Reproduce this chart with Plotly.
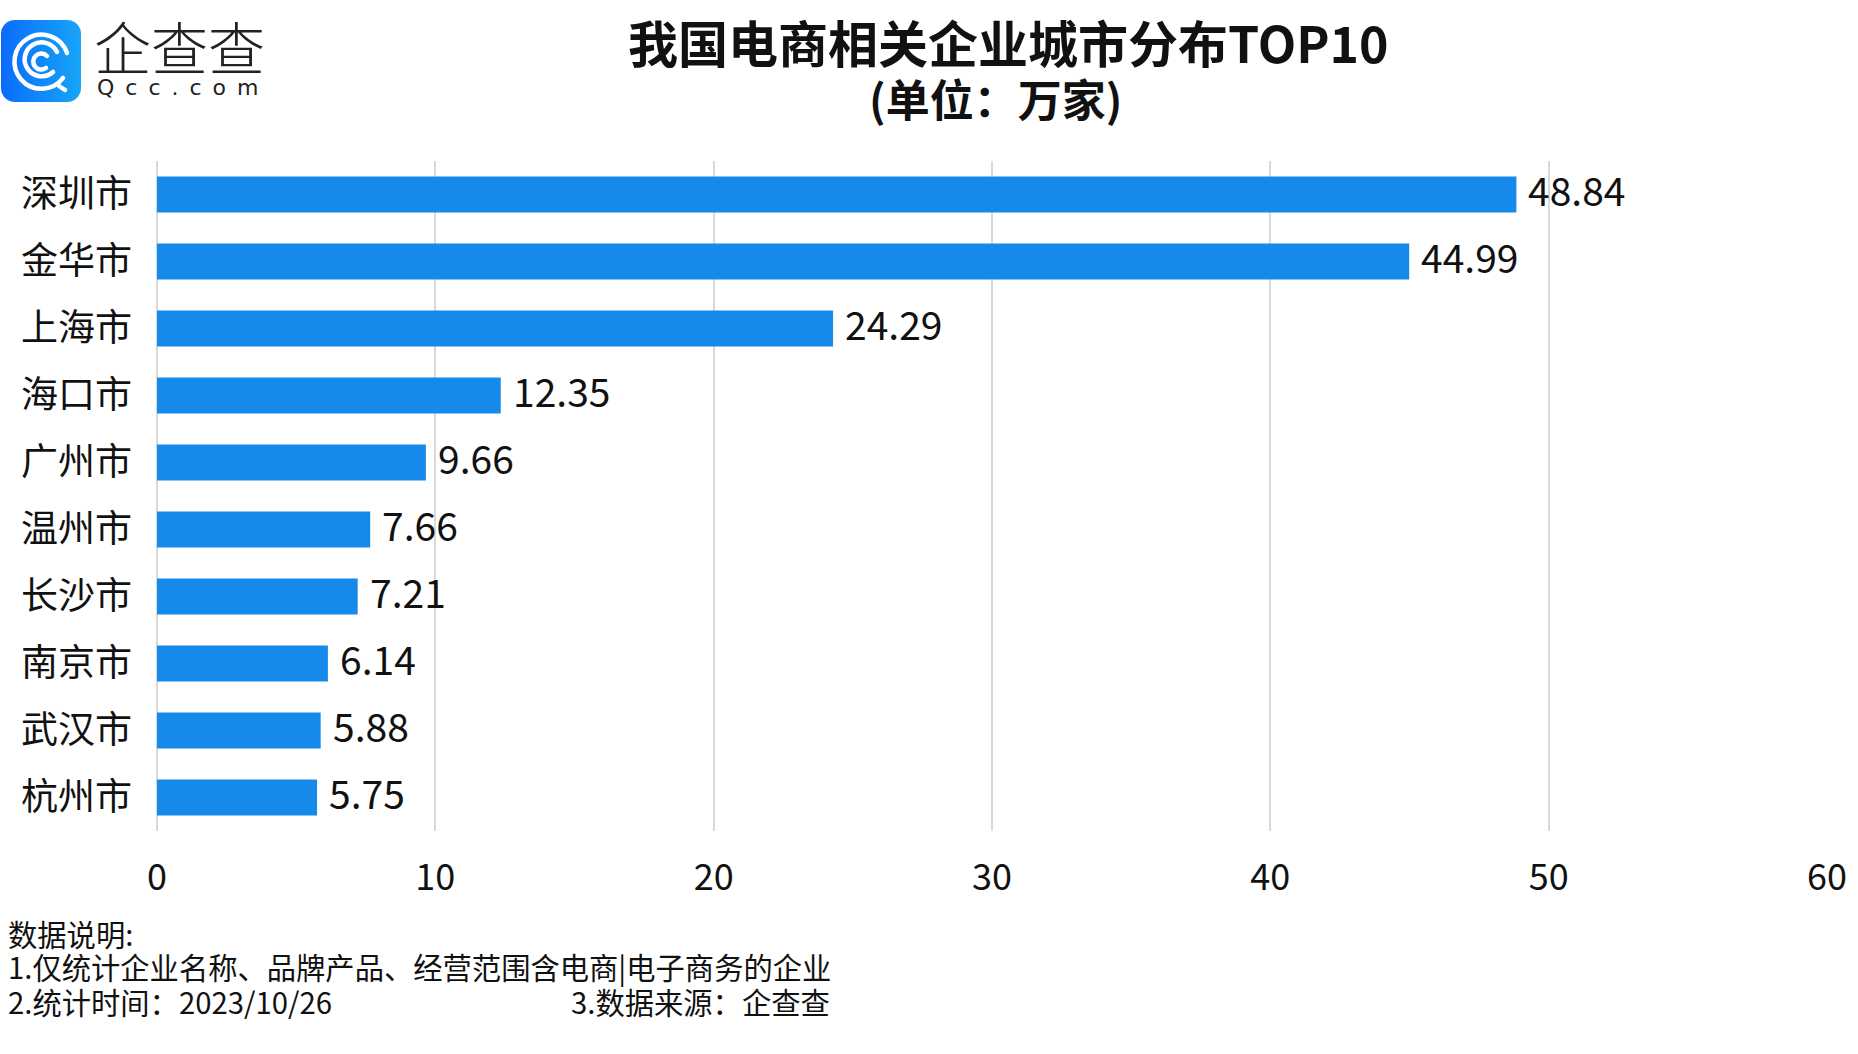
import base64
import plotly.graph_objects as go

cities = ["深圳市", "金华市", "上海市", "海口市", "广州市", "温州市", "长沙市", "南京市", "武汉市", "杭州市"]
counts = [48.84, 44.99, 24.29, 12.35, 9.66, 7.66, 7.21, 6.14, 5.88, 5.75]
x_ticks = [0, 10, 20, 30, 40, 50, 60]

title = "我国电商相关企业城市分布TOP10"
subtitle = "(单位：万家)"
notes = ["数据说明:", "1.仅统计企业名称、品牌产品、经营范围含电商|电子商务的企业", "2.统计时间：2023/10/26"]
source = "3.数据来源：企查查"

W, H = 1858, 1054
L, R, T, B = 157, 1827, 161, 831
FONT = "Noto Sans CJK SC"

def px(x):
    return (x - L) / (R - L)

def py(y):
    return (B - y) / (B - T)

fig = go.Figure(go.Bar(
    x=counts, y=cities, orientation="h",
    marker=dict(color="#168AEA", line=dict(width=0)),
    hoverinfo="x+y",
))

fig.update_layout(
    width=W, height=H,
    margin=dict(l=L, r=W - R, t=T, b=H - B, pad=0),
    paper_bgcolor="white", plot_bgcolor="white",
    bargap=0.46, showlegend=False,
    font=dict(family=FONT, color="#111111"),
    xaxis=dict(range=[0, 60], tickvals=x_ticks, ticktext=[str(t) for t in x_ticks],
               showgrid=True, gridcolor="#d9d9d9", gridwidth=2,
               zeroline=True, zerolinecolor="#d9d9d9", zerolinewidth=2,
               showline=False, ticks="", ticklabelstandoff=22,
               tickfont=dict(family=FONT, size=36, color="#111111"), fixedrange=True),
    yaxis=dict(categoryorder="array", categoryarray=cities, range=[9.5, -0.5],
               showgrid=False, zeroline=False, showline=False, ticks="",
               ticklabelstandoff=24,
               tickfont=dict(family=FONT, size=37, color="#111111"), fixedrange=True),
)

ann = []
# value labels, positioned through the data axes
for c, v in zip(cities, counts):
    ann.append(dict(text=f"{v:.2f}", x=v, y=c, xref="x", yref="y",
                    xanchor="left", yanchor="middle", xshift=10, yshift=6,
                    showarrow=False,
                    font=dict(family=FONT, size=39, color="#111111")))
ann.append(dict(text=f"<b>{title}</b>", x=px(1008), y=py(41), xref="paper", yref="paper",
                xanchor="center", yanchor="middle", showarrow=False,
                font=dict(family=FONT, size=50, color="#111111")))
ann.append(dict(text=f"<b>{subtitle}</b>", x=px(996), y=py(98), xref="paper", yref="paper",
                xanchor="center", yanchor="middle", showarrow=False,
                font=dict(family=FONT, size=44, color="#111111")))
for t, yy in zip(notes, [933, 966, 1001]):
    ann.append(dict(text=t, x=px(6), y=py(yy), xref="paper", yref="paper",
                    xanchor="left", yanchor="middle", showarrow=False,
                    font=dict(family=FONT, size=29.3, color="#111111")))
ann.append(dict(text=source, x=px(832), y=py(1001), xref="paper", yref="paper",
                xanchor="right", yanchor="middle", showarrow=False,
                font=dict(family=FONT, size=29.3, color="#111111")))
# logo text
ann.append(dict(text="企查查", x=px(179), y=py(45), xref="paper", yref="paper",
                xanchor="center", yanchor="middle", showarrow=False,
                font=dict(family=FONT, size=57, color="#222222", weight=300)))
ann.append(dict(text="Q\u2002c\u2002c\u2002.\u2002c\u2002o\u2002m", x=px(178), y=py(88), xref="paper", yref="paper",
                xanchor="center", yanchor="middle", showarrow=False,
                font=dict(family="DejaVu Sans", size=22, color="#222222")))
fig.update_layout(annotations=ann)

svg = """<svg xmlns='http://www.w3.org/2000/svg' width='80' height='82' viewBox='0 0 80 82'>
<defs><linearGradient id='g' x1='0' y1='0' x2='1' y2='0'>
<stop offset='0' stop-color='#0a6cfb'/><stop offset='1' stop-color='#17a5f7'/></linearGradient></defs>
<rect x='0' y='0' width='80' height='82' rx='14' ry='14' fill='url(#g)'/>
<g fill='none' stroke='white' stroke-linecap='round'>
<path d='M 62 58 A 27 27 0 1 1 66 33' stroke-width='4.5'/>
<path d='M 58 66 L 64 70' stroke-width='4.5'/>
<path d='M 52 52 A 17 17 0 1 1 56 32' stroke-width='4.5'/>
<path d='M 45 48 A 8 8 0 1 1 46 36' stroke-width='4.5'/>
</g></svg>"""
src = "data:image/svg+xml;base64," + base64.b64encode(svg.encode()).decode()
fig.add_layout_image(dict(source=src, xref="paper", yref="paper",
                          x=px(1), y=py(20), sizex=80 / (R - L), sizey=82 / (B - T),
                          xanchor="left", yanchor="top", sizing="stretch", layer="above"))

fig.write_html("out.html", config={"displayModeBar": False},
               post_script="document.body.style.margin='0';document.body.style.overflow='hidden';")
